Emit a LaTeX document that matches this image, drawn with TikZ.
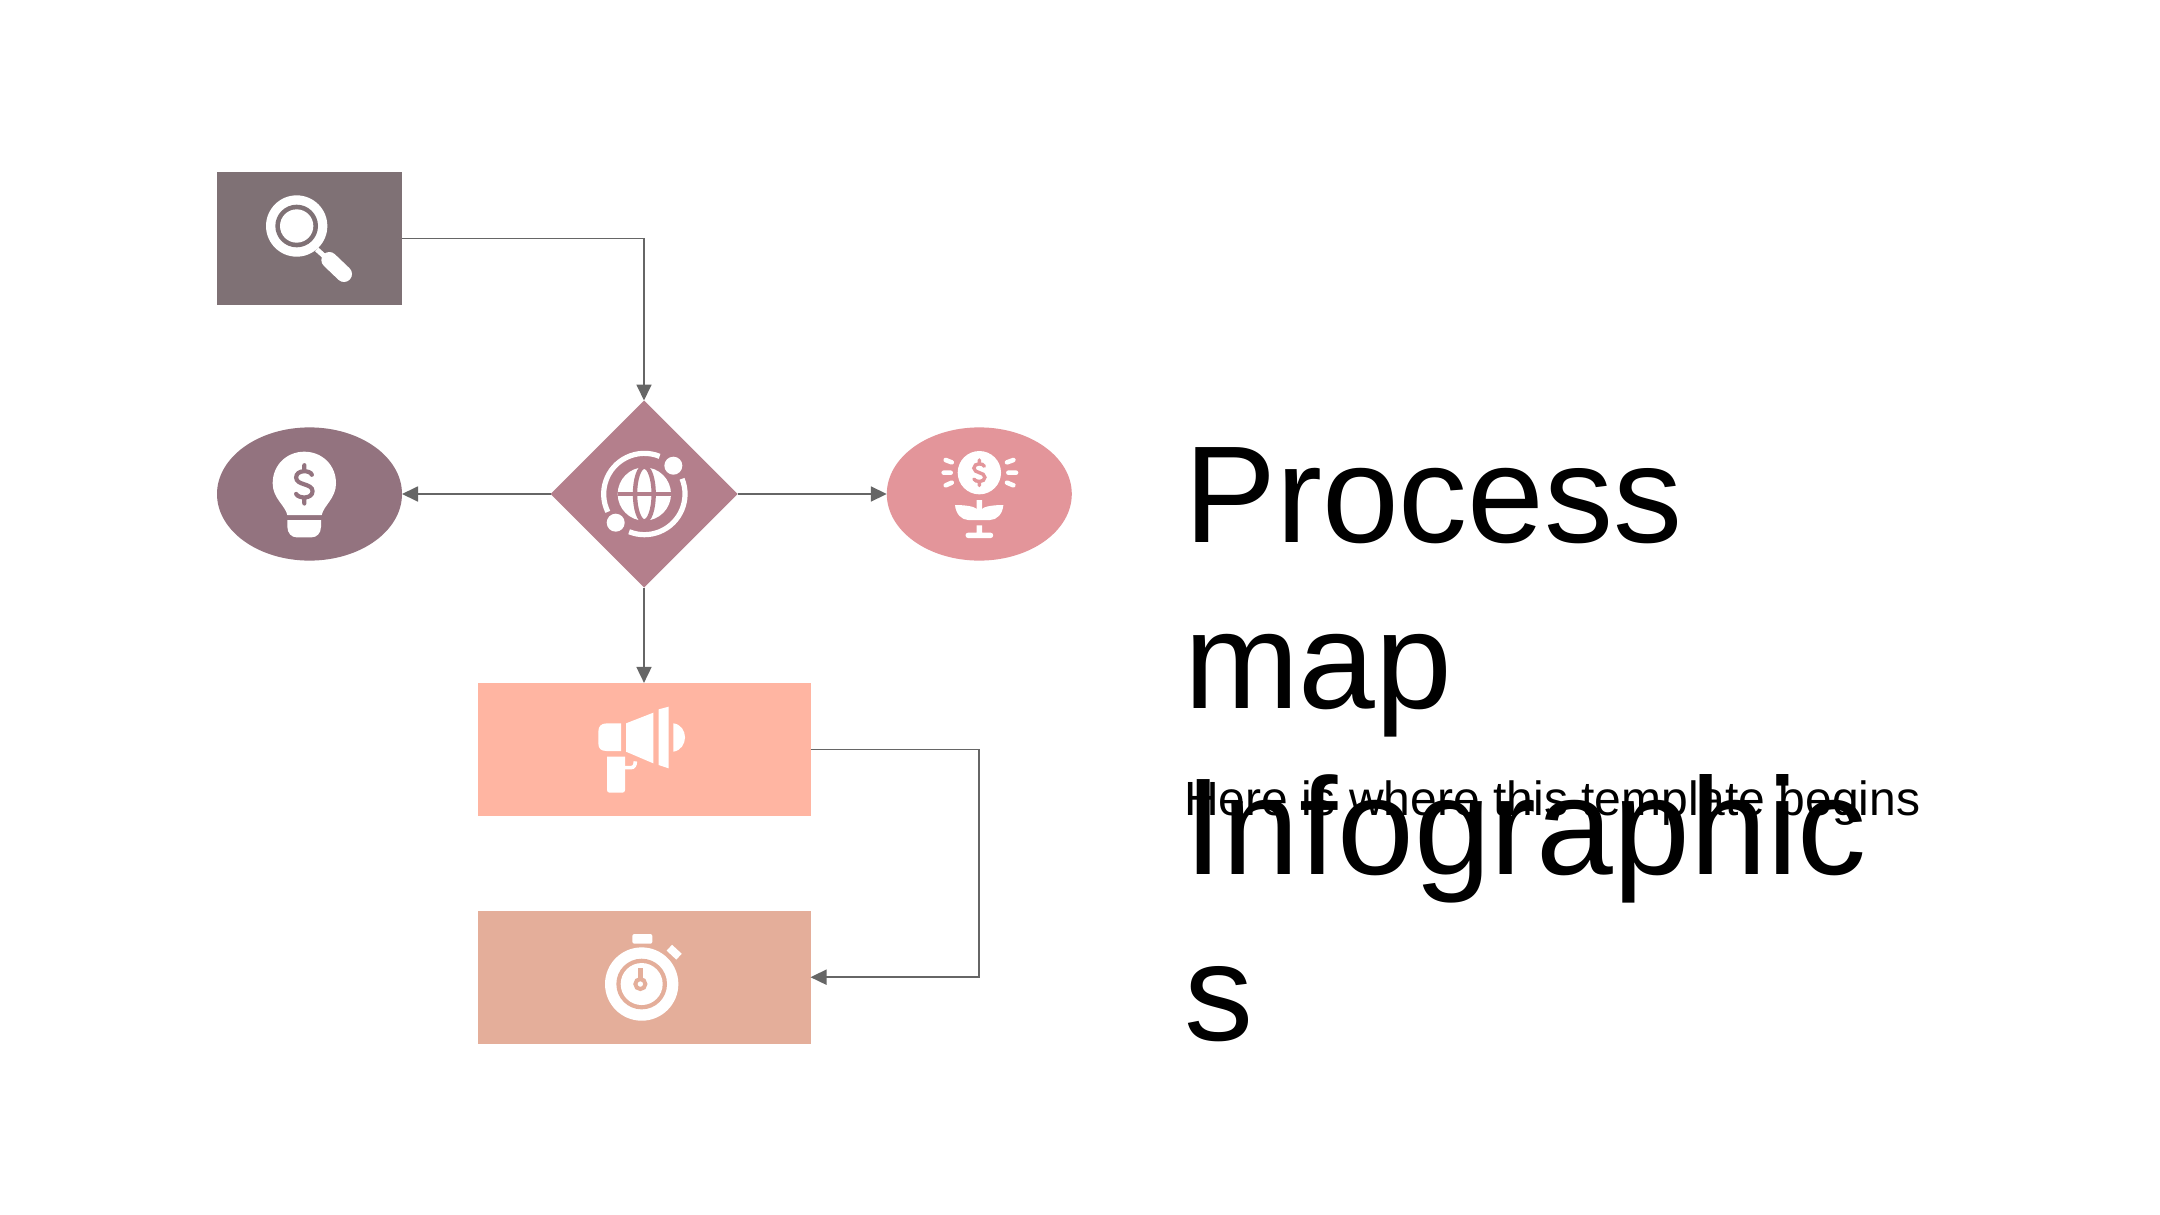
\documentclass[tikz,border=0pt]{standalone}
\usepackage{fontspec}
\setmainfont{Liberation Sans}
\usetikzlibrary{arrows.meta,shapes.geometric}
\definecolor{cSearch}{HTML}{7F7175}
\definecolor{cBulb}{HTML}{93737F}
\definecolor{cGlobe}{HTML}{B47F8C}
\definecolor{cPlant}{HTML}{E3959A}
\definecolor{cHorn}{HTML}{FFB5A2}
\definecolor{cWatch}{HTML}{E4AE9A}
\definecolor{cLine}{HTML}{666666}
\tikzset{
  shapebase/.style={draw=none,inner sep=0pt,outer sep=0pt},
  boxshape/.style={shapebase,rectangle,minimum width=#1,minimum height=66.6pt},
  ovalshape/.style={shapebase,ellipse,fill=#1,minimum width=92.5pt,minimum height=66.6pt},
  link/.style={draw=cLine,line width=0.9pt,-{Triangle[length=8pt,width=7.5pt]}},
  zoomframe/.style 2 args={x=0.166667pt,y=-0.166667pt,shift={(#1*3,#2*3)}},
  dollarwidth/.initial=2pt,
  dollarsign/.pic={
    \draw[#1,line width=\pgfkeysvalueof{/tikz/dollarwidth},line cap=round,fill=none]
      (5.5,-7) .. controls (4.5,-10.5) and (-6,-11) .. (-6,-5)
      .. controls (-6,1) and (6,-1) .. (6,5)
      .. controls (6,11) and (-4.5,10.5) .. (-6,7)
      (0,-14) -- (0,-10) (0,10) -- (0,14);
  }
}
\begin{document}
\begin{tikzpicture}[x=0.5pt,y=-0.5pt]
\useasboundingbox (0,0) rectangle (2160,1215);
\fill[white] (0,0) rectangle (2160,1215);

\node[boxshape=92.5pt,fill=cSearch] (search) at (309.5,238.4) {};
\node[ovalshape=cBulb] (bulb) at (309.5,494) {};
\node[shapebase,diamond,aspect=1,fill=cGlobe,minimum width=93.5pt,minimum height=93.5pt] (globe) at (644,494) {};
\node[ovalshape=cPlant] (plant) at (979.3,494) {};
\node[boxshape=166.5pt,fill=cHorn] (horn) at (644,749.5) {};
\node[boxshape=166.5pt,fill=cWatch] (watch) at (644,977.2) {};
\coordinate (bendA) at (globe.north |- search.east);
\coordinate (bendB) at (plant.center |- horn.east);
\coordinate (bendC) at (plant.center |- watch.east);

\draw[link] (search.east) -- (bendA) -- (globe.north);
\draw[link] (globe.west) -- (bulb.east);
\draw[link] (globe.east) -- (plant.west);
\draw[link] (globe.south) -- (horn.north);
\draw[link] (horn.east) -- (bendB) -- (bendC) -- (watch.east);

% magnifier
\begin{scope}[zoomframe={200}{150}]
\fill[white] (290,228) circle[radius=92];
\fill[cSearch] (290,228) circle[radius=64];
\fill[white] (290,228) circle[radius=50];
\draw[white,line width=2.5pt] (350,298) -- (380,325);
\draw[white,line width=8pt,line cap=round] (388,330) -- (432,372);
\end{scope}

% bulb
\begin{scope}[zoomframe={210}{420}]
\fill[white] (232,285) .. controls (225,255) and (188,235) .. (188,190)
  .. controls (188,135) and (230,95) .. (283,95)
  .. controls (336,95) and (378,135) .. (378,190)
  .. controls (378,235) and (342,255) .. (335,285) -- cycle;
\fill[white] (232,300) -- (333,300) -- (333,320) .. controls (333,340) and (320,352) .. (305,352)
  -- (260,352) .. controls (245,352) and (232,340) .. (232,320) -- cycle;
\pic[dollarwidth=2.1pt,scale=4.1] at (283,193) {dollarsign=cBulb};
\end{scope}

% globe
\begin{scope}[zoomframe={540}{390}]
\draw[white,line width=2.6pt] (313,312) ++(154:122) arc[start angle=154,end angle=292,radius=122];
\draw[white,line width=2.6pt] (313,312) ++(-22:122) arc[start angle=-22,end angle=112,radius=122];
\fill[white] (400,227) circle[radius=27];
\fill[white] (227,398) circle[radius=27];
\fill[white] (313,312) circle[radius=80];
\draw[cGlobe,line width=2pt] (233,312) -- (393,312);
\draw[cGlobe,line width=2.2pt] (313,312) ellipse[x radius=28,y radius=82];
\end{scope}

% plant
\begin{scope}[zoomframe={880}{420}]
\fill[white] (298,158) circle[radius=65];
\pic[dollarwidth=1.7pt,scale=2.75] at (298,158) {dollarsign=cPlant};
\draw[white,line width=2.3pt,line cap=round]
  (197,120) -- (215,127) (191,158) -- (212,158) (197,196) -- (215,188)
  (381,127) -- (400,120) (385,158) -- (408,158) (381,188) -- (400,196);
\fill[white] (225,255) .. controls (250,255) and (285,258) .. (290,268) -- (290,240) -- (306,240) -- (306,268)
  .. controls (311,258) and (345,255) .. (370,255)
  .. controls (368,282) and (350,300) .. (330,300) -- (265,300)
  .. controls (245,300) and (227,282) .. (225,255) -- cycle;
\fill[white] (290,316) -- (306,316) -- (306,338) -- (332,338) .. controls (342,338) and (342,354) .. (332,354)
  -- (264,354) .. controls (254,354) and (254,338) .. (264,338) -- (290,338) -- cycle;
\end{scope}

% megaphone
\begin{scope}[zoomframe={560}{690}]
\fill[white] (183,100) -- (140,100) .. controls (122,100) and (115,110) .. (115,125)
  -- (115,160) .. controls (115,175) and (122,183) .. (140,183) -- (183,183) -- cycle;
\fill[white] (198,100) -- (280,68) -- (280,220) -- (198,185) -- cycle;
\fill[white] (296,58) -- (326,50) -- (326,235) -- (296,225) -- cycle;
\fill[white] (340,100) .. controls (362,102) and (375,122) .. (375,142)
  .. controls (375,162) and (362,182) .. (340,185) -- cycle;
\fill[white] (141,200) -- (195,200) -- (195,300) .. controls (195,305) and (192,308) .. (187,308)
  -- (149,308) .. controls (144,308) and (141,305) .. (141,300) -- cycle;
\draw[white,line width=1.8pt] (195,233) -- (212,233) .. controls (222,233) and (226,225) .. (226,214);
\end{scope}

% stopwatch
\begin{scope}[zoomframe={560}{915}]
\fill[white] (245,207) circle[radius=110];
\fill[cWatch] (245,207) circle[radius=76];
\fill[white] (245,207) circle[radius=63];
\fill[white,rounded corners=1pt] (217,57) rectangle (277,86);
\draw[white,line width=4pt] (328,98) -- (357,125);
\draw[cWatch,line width=2pt] (241,207) circle[radius=15];
\draw[cWatch,line width=2.2pt] (241,160) -- (241,192);
\end{scope}

\node[shapebase,anchor=north west,align=left,font=\fontsize{69}{83}\selectfont] (title) at (1184,447.5) {Process\\map\\Infographic\\s};
\node[shapebase,anchor=base west,font=\fontsize{24}{28}\selectfont] (subtitle) at (1184,815) {Here is where this template begins};
\end{tikzpicture}
\end{document}
